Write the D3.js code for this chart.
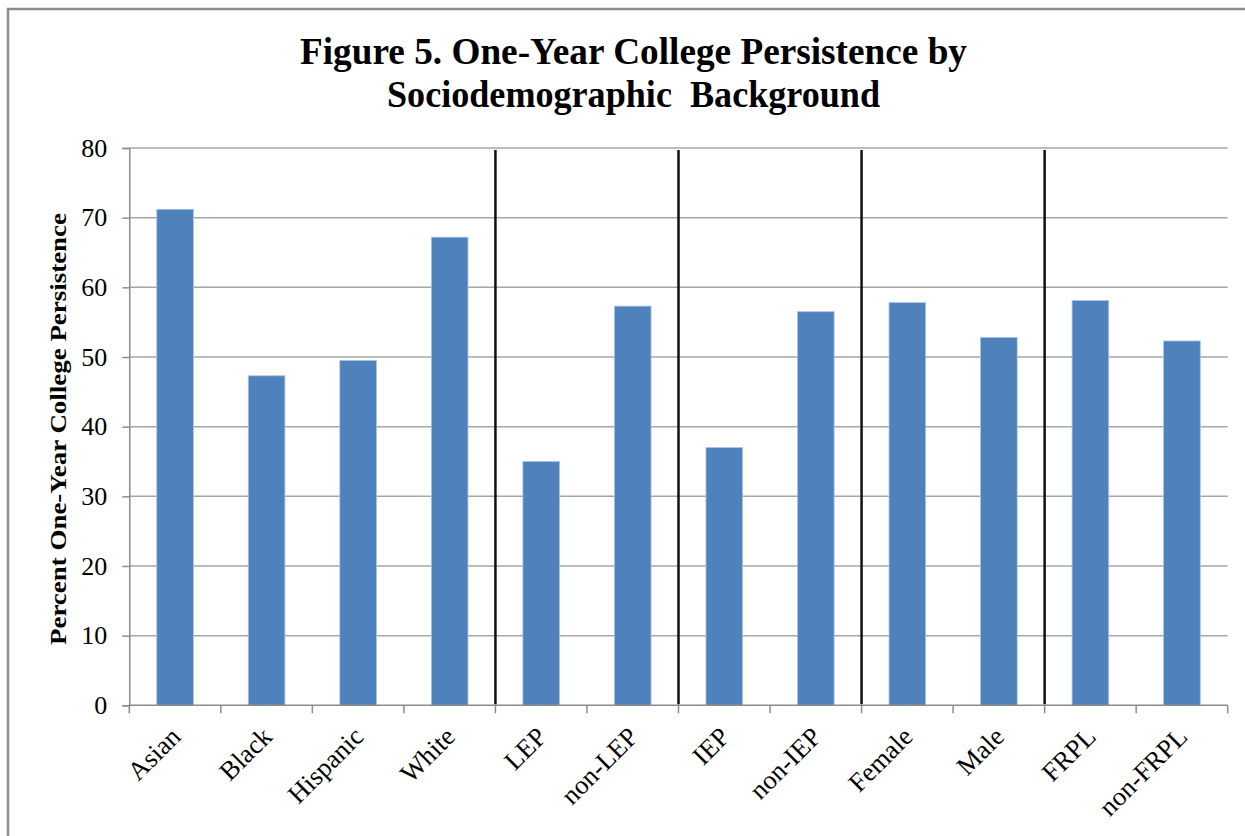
<!DOCTYPE html>
<html>
<head>
<meta charset="utf-8">
<script src="https://cdn.jsdelivr.net/npm/d3@7"></script>
<style>
  html, body { margin: 0; padding: 0; background: #fff; }
  svg { display: block; }
  text { font-family: "Liberation Serif", "Times New Roman", serif; fill: #000; }
</style>
</head>
<body>
<svg id="chart" width="1245" height="836"></svg>
<script>
// Categories, grouped by background dimension
const groups = [
  ["Asian", "Black", "Hispanic", "White"],
  ["LEP", "non-LEP"],
  ["IEP", "non-IEP"],
  ["Female", "Male"],
  ["FRPL", "non-FRPL"]
];
const categories = groups.flat();

// Percent one-year college persistence per category
const persistence = [71.2, 47.3, 49.5, 67.2, 35.0, 57.3, 37.0, 56.5, 57.8, 52.8, 58.1, 52.3];

const yTicks = [0, 10, 20, 30, 40, 50, 60, 70, 80];

const titleLines = ["Figure 5. One-Year College Persistence by", "Sociodemographic  Background"];
const yTitle = "Percent One-Year College Persistence";

const svg = d3.select("#chart");

// Outer frame
svg.append("rect")
  .attr("x", 8).attr("y", 9)
  .attr("width", 1260).attr("height", 860)
  .attr("fill", "none")
  .attr("stroke", "#8c8c8c")
  .attr("stroke-width", 2.5);

const plot = { left: 129.3, right: 1227.7, top: 148, bottom: 705.3 };

const x = d3.scaleBand()
  .domain(categories)
  .range([plot.left, plot.right])
  .paddingInner(0.6)
  .paddingOuter(0.3);

const y = d3.scaleLinear()
  .domain([0, 80])
  .range([plot.bottom, plot.top]);

const gap = (x.step() - x.bandwidth()) / 2;
const boundaries = categories.map(c => x(c) - gap).concat([x(categories[categories.length - 1]) + x.bandwidth() + gap]);

// Horizontal gridlines
svg.append("g")
  .selectAll("line")
  .data(yTicks.filter(t => t > 0))
  .join("line")
  .attr("x1", plot.left).attr("x2", plot.right)
  .attr("y1", d => y(d)).attr("y2", d => y(d))
  .attr("stroke", "#a6a6a6")
  .attr("stroke-width", 1.5);

// Y axis
const yAxis = svg.append("g")
  .attr("transform", `translate(${plot.left},0)`)
  .call(d3.axisLeft(y).tickValues(yTicks).tickSize(7).tickPadding(15).tickFormat(d3.format("d")));
yAxis.select(".domain").attr("stroke", "#8c8c8c").attr("stroke-width", 1.5);
yAxis.selectAll(".tick line").attr("stroke", "#8c8c8c").attr("stroke-width", 1.5);
yAxis.selectAll(".tick text")
  .attr("font-family", "Liberation Serif, Times New Roman, serif")
  .attr("font-size", 26)
  .attr("fill", "#000");

// Bars
svg.append("g")
  .selectAll("rect")
  .data(categories)
  .join("rect")
  .attr("x", d => x(d))
  .attr("y", (d, i) => y(persistence[i]))
  .attr("width", x.bandwidth())
  .attr("height", (d, i) => y(0) - y(persistence[i]))
  .attr("fill", "#4f81bd")
  .attr("stroke", "#a9c2e3")
  .attr("stroke-width", 0.8);

// X axis baseline and boundary ticks
svg.append("line")
  .attr("x1", plot.left).attr("x2", plot.right)
  .attr("y1", y(0)).attr("y2", y(0))
  .attr("stroke", "#8c8c8c").attr("stroke-width", 1.5);
svg.append("g")
  .selectAll("line")
  .data(boundaries)
  .join("line")
  .attr("x1", d => d).attr("x2", d => d)
  .attr("y1", y(0)).attr("y2", y(0) + 8)
  .attr("stroke", "#8c8c8c").attr("stroke-width", 1.5);

// Category labels, rotated
svg.append("g")
  .selectAll("text")
  .data(categories)
  .join("text")
  .attr("transform", d => `translate(${x(d) + x.bandwidth() / 2 + 7},${y(0) + 33}) rotate(-45)`)
  .attr("text-anchor", "end")
  .attr("font-size", 26.5)
  .text(d => d);

// Group separators
const separatorX = groups.slice(1).map(g => x(g[0]) - gap);
svg.append("g")
  .selectAll("line")
  .data(separatorX)
  .join("line")
  .attr("x1", d => d).attr("x2", d => d)
  .attr("y1", plot.top + 2).attr("y2", plot.bottom - 1)
  .attr("stroke", "#111")
  .attr("stroke-width", 2.5);

// Title
svg.append("g")
  .selectAll("text")
  .data(titleLines)
  .join("text")
  .attr("x", 633.5)
  .attr("y", (d, i) => 64 + i * 43)
  .attr("text-anchor", "middle")
  .attr("font-weight", "bold")
  .attr("font-size", 37)
  .style("white-space", "pre")
  .attr("textLength", (d, i) => i === 0 ? 667 : 493)
  .attr("lengthAdjust", "spacingAndGlyphs")
  .text(d => d);

// Y axis title
svg.append("text")
  .attr("transform", `translate(66,429) rotate(-90)`)
  .attr("text-anchor", "middle")
  .attr("font-weight", "bold")
  .attr("font-size", 24)
  .attr("textLength", 432)
  .attr("lengthAdjust", "spacingAndGlyphs")
  .text(yTitle);
</script>
</body>
</html>
